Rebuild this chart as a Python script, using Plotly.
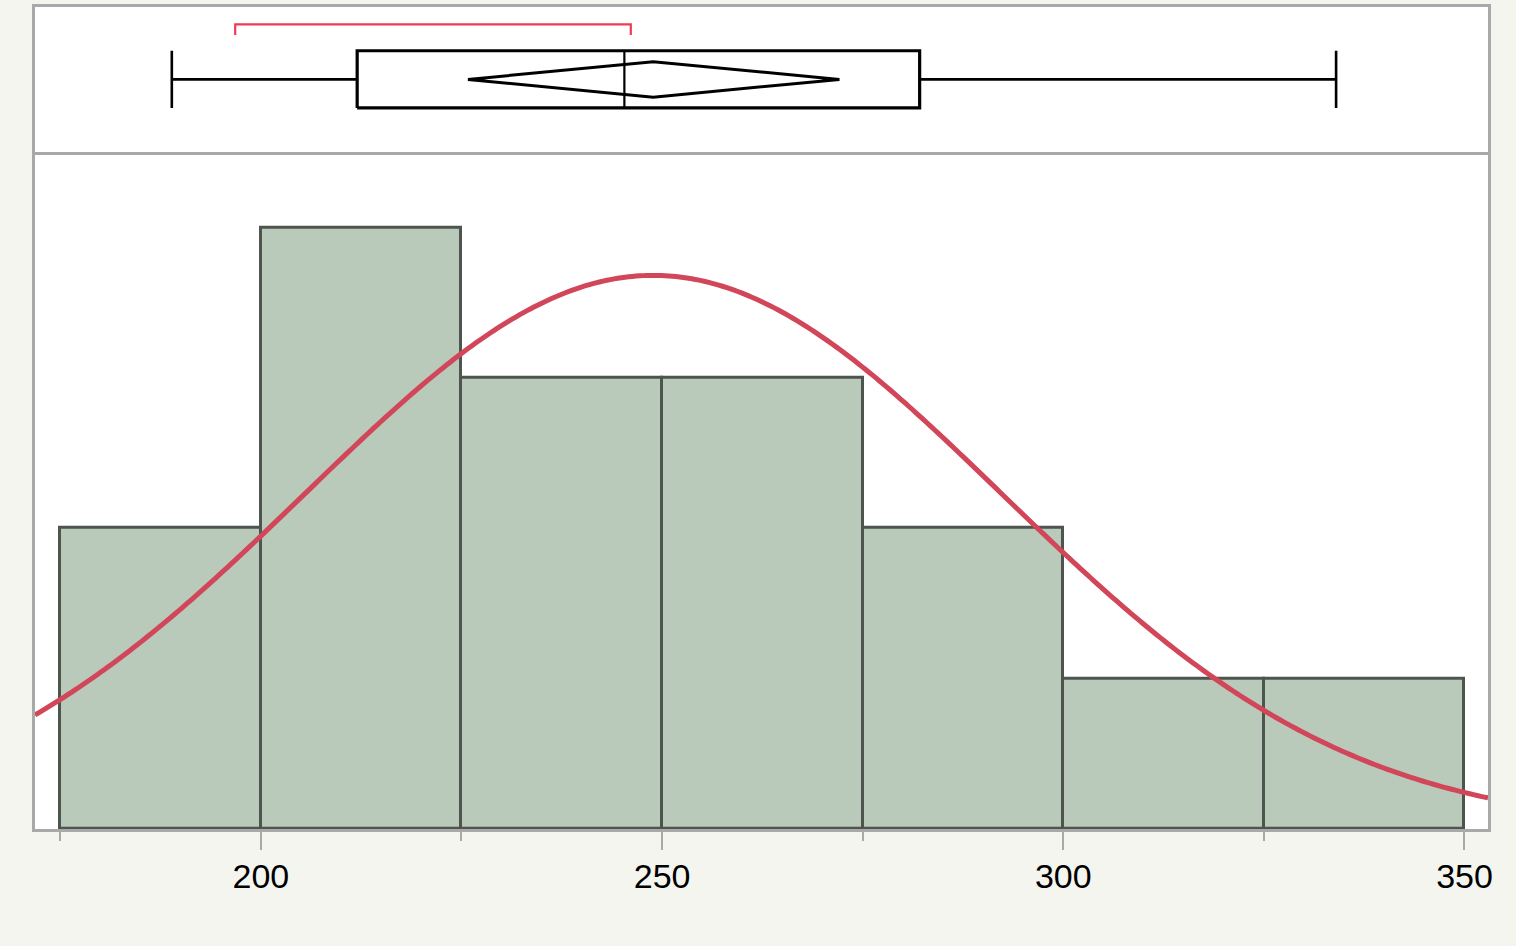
import numpy as np
import plotly.graph_objects as go

# ---------------- data ----------------
bin_edges = [175, 200, 225, 250, 275, 300, 325, 350]
counts = [2, 4, 3, 3, 2, 1, 1]
tick_values = [200, 250, 300, 350]
tick_labels = ["200", "250", "300", "350"]
minor_tick_values = [175, 225, 275, 325]

# outlier box plot summary
whisker_low = 188.9
q1 = 212.0
median = 245.3
q3 = 282.1
whisker_high = 334.0
mean_value = 248.9
mean_ci = [225.8, 272.1]
shortest_half = [196.8, 246.1]

# normal fit parameters
n_obs = 16
std_dev = 43.35

# ---------------- styling ----------------
BG = "#f5f5f0"
FRAME = "#a9a9a9"
BAR_FILL = "#b9cabb"
BAR_LINE = "#4e554e"
CURVE = "#d24659"
BRACKET = "#ef3a52"
X_RANGE = [171.85, 352.93]
SPLIT = 0.8202

centers = [(bin_edges[i] + bin_edges[i + 1]) / 2 for i in range(len(counts))]
widths = [bin_edges[i + 1] - bin_edges[i] for i in range(len(counts))]
bin_width = widths[0]

fig = go.Figure()

fig.add_trace(go.Bar(
    x=centers, y=counts, width=widths,
    marker=dict(color=BAR_FILL, line=dict(color=BAR_LINE, width=3)),
    xaxis="x", yaxis="y", hoverinfo="x+y", showlegend=False,
))

# fitted normal density scaled to counts
xs = np.linspace(X_RANGE[0], X_RANGE[1], 400)
ys = n_obs * bin_width / (std_dev * np.sqrt(2 * np.pi)) * np.exp(-0.5 * ((xs - mean_value) / std_dev) ** 2)
fig.add_trace(go.Scatter(
    x=xs, y=ys, mode="lines", line=dict(color=CURVE, width=5, simplify=False),
    xaxis="x", yaxis="y", hoverinfo="skip", showlegend=False,
))

# ---------------- box plot panel ----------------
box_lo, box_hi, mid = 0.317, 0.704, 0.51
dia = 0.12

def seg(xv, yv, color="black", width=2.0):
    fig.add_trace(go.Scatter(
        x=xv, y=yv, mode="lines", line=dict(color=color, width=width),
        xaxis="x2", yaxis="y2", hoverinfo="skip", showlegend=False,
    ))

# whiskers
seg([whisker_low, q1], [mid, mid], width=2.6)
seg([q3, whisker_high], [mid, mid], width=2.6)
seg([whisker_low, whisker_low], [box_lo, box_hi], width=2.6)
seg([whisker_high, whisker_high], [box_lo, box_hi], width=2.6)
# box
seg([q1, q3, q3, q1, q1], [box_lo, box_lo, box_hi, box_hi, box_lo], width=3.2)
# median
seg([median, median], [box_lo, box_hi], width=2.2)
# mean diamond
seg([mean_ci[0], mean_value, mean_ci[1], mean_value, mean_ci[0]],
    [mid, mid + dia, mid, mid - dia, mid], width=3)
# shortest half bracket
seg([shortest_half[0], shortest_half[0], shortest_half[1], shortest_half[1]],
    [0.811, 0.883, 0.883, 0.811], color=BRACKET, width=2.2)

axis_common = dict(showline=True, linecolor=FRAME, linewidth=3,
                   showgrid=False, zeroline=False)

fig.update_layout(
    width=1516, height=946,
    paper_bgcolor=BG, plot_bgcolor="white",
    margin=dict(l=35, r=28, t=7, b=117),
    showlegend=False,
    bargap=0,
    xaxis=dict(
        domain=[0, 1], anchor="y", range=X_RANGE,
        tickmode="array", tickvals=tick_values, ticktext=tick_labels,
        ticks="outside", ticklen=18, tickwidth=2, tickcolor=FRAME,
        ticklabelstandoff=-3,
        tickfont=dict(family="Liberation Sans, Arial, sans-serif", size=34, color="black"),
        minor=dict(tickmode="array", tickvals=minor_tick_values, ticks="outside",
                   ticklen=9, tickwidth=2, tickcolor=FRAME),
        mirror=True, **axis_common,
    ),
    yaxis=dict(domain=[0, SPLIT], anchor="x", range=[0, 4.483],
               showticklabels=False, ticks="", mirror=True, **axis_common),
    xaxis2=dict(domain=[0, 1], anchor="y2", range=X_RANGE, matches="x", side="top",
                showticklabels=False, ticks="", **axis_common),
    yaxis2=dict(domain=[SPLIT, 1], anchor="x2", range=[0, 1],
                showticklabels=False, ticks="", mirror=True, **axis_common),
)

fig.write_html("out.html", config={"displayModeBar": False},
               post_script="document.body.style.margin='0';")
